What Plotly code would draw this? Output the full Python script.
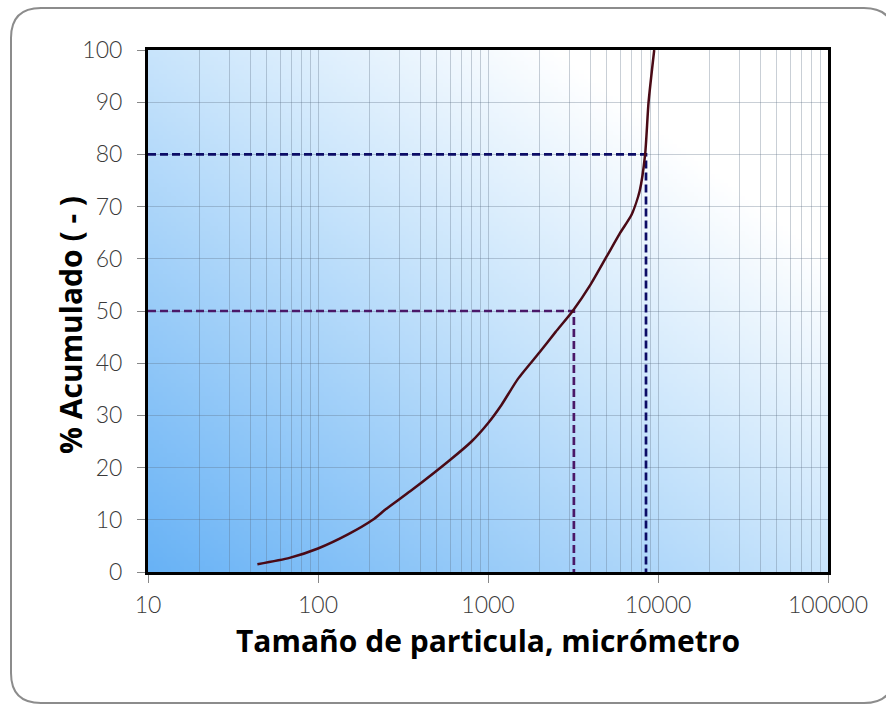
import base64, struct, zlib
import plotly.graph_objects as go

# ---- data ----
size_um = [44, 68, 100, 150, 210, 250, 350, 600, 800, 1000, 1200, 1500, 2000,
           2500, 3150, 4000, 5000, 6000, 7000, 7800, 8400, 8800, 9500]
cum_pct = [1.5, 2.7, 4.5, 7.2, 10, 12, 15.5, 21.5, 25, 28.5, 32, 37, 42,
           46, 50, 55, 60.5, 65, 68.5, 73, 80, 90, 100]
d50 = 3200
d80 = 8500
x_ticks = [10, 100, 1000, 10000, 100000]
x_tick_labels = ["10", "100", "1000", "10000", "100000"]
x_minor = [m * 10 ** k for k in range(1, 5) for m in range(2, 10)]
y_ticks = list(range(0, 101, 10))
x_title = "Tamaño de particula, micrómetro"
y_title = "% Acumulado ( - )"

# ---- gradient background image ----
def lerp(a, b, t):
    return tuple(int(round(a[i] + (b[i] - a[i]) * t)) for i in range(3))

def grad_png(w, h):
    c0 = (104, 178, 245)
    c1 = (200, 228, 251)
    c2 = (255, 255, 255)
    raw = bytearray()
    for j in range(h):
        v = 1 - j / (h - 1)
        raw.append(0)
        for i in range(w):
            u = i / (w - 1)
            t = (u + v) / 2
            if t < 0.5:
                c = lerp(c0, c1, t / 0.5)
            else:
                c = lerp(c1, c2, min(1, (t - 0.5) / 0.3))
            raw.extend(c)
    def chunk(tag, data):
        return struct.pack(">I", len(data)) + tag + data + struct.pack(">I", zlib.crc32(tag + data) & 0xffffffff)
    png = b"\x89PNG\r\n\x1a\n" + chunk(b"IHDR", struct.pack(">IIBBBBB", w, h, 8, 2, 0, 0, 0))
    png += chunk(b"IDAT", zlib.compress(bytes(raw), 9)) + chunk(b"IEND", b"")
    return "data:image/png;base64," + base64.b64encode(png).decode()

W, H = 886, 706
L, R, T, B = 148, 828, 50, 572

def px_to_paper(px, py):
    return (px - L) / (R - L), (B - py) / (B - T)

def rounded_rect(x0, y0, x1, y1, r):
    def P(px, py):
        u, v = px_to_paper(px, py)
        return f"{u:.5f},{v:.5f}"
    return (f"M {P(x0 + r, y0)} L {P(x1 - r, y0)} Q {P(x1, y0)} {P(x1, y0 + r)} "
            f"L {P(x1, y1 - r)} Q {P(x1, y1)} {P(x1 - r, y1)} "
            f"L {P(x0 + r, y1)} Q {P(x0, y1)} {P(x0, y1 - r)} "
            f"L {P(x0, y0 + r)} Q {P(x0, y0)} {P(x0 + r, y0)} Z")

fig = go.Figure()
fig.add_trace(go.Scatter(x=[10, d50, d50], y=[50, 50, 0], mode="lines",
                         line=dict(color="#4a1868", width=2.7, dash="8px,4px"),
                         hoverinfo="skip", showlegend=False))
fig.add_trace(go.Scatter(x=[10, d80, d80], y=[80, 80, 0], mode="lines",
                         line=dict(color="#0c0c66", width=2.7, dash="8px,4px"),
                         hoverinfo="skip", showlegend=False))
fig.add_trace(go.Scatter(x=size_um, y=cum_pct, mode="lines",
                         line=dict(color="#4a0a16", width=2.5, shape="spline", smoothing=0.6),
                         showlegend=False))

grid_col = "rgba(90,110,130,0.33)"
tick_font = dict(family="Lato, 'Open Sans', sans-serif", size=23, color="#3a3a3a", weight=300)
title_font = dict(family="'Open Sans', 'Liberation Sans', Arial", size=30, color="black", weight="bold")
fig.update_xaxes(type="log", range=[1, 5], tickvals=x_ticks, ticktext=x_tick_labels,
                 showgrid=True, gridcolor=grid_col, gridwidth=1,
                 minor=dict(tickvals=x_minor, showgrid=True, gridcolor=grid_col, gridwidth=1, ticks=""),
                 ticks="outside", ticklen=8, tickcolor="#888", tickwidth=1,
                 ticklabelstandoff=2,
                 showline=True, linecolor="black", linewidth=3, mirror=True,
                 tickfont=tick_font, zeroline=False)
fig.update_yaxes(range=[0, 100], tickvals=y_ticks, showgrid=True, gridcolor=grid_col, gridwidth=1,
                 ticks="outside", ticklen=8, tickcolor="#888", tickwidth=1,
                 ticklabelstandoff=10,
                 showline=True, linecolor="black", linewidth=3, mirror=True,
                 tickfont=tick_font, zeroline=False)

xt_u, xt_v = px_to_paper(488, 640)
yt_u, yt_v = px_to_paper(70, 325)
fig.update_layout(
    width=W, height=H,
    margin=dict(l=L, r=W - R, t=T, b=H - B, autoexpand=False),
    paper_bgcolor="white", plot_bgcolor="white",
    images=[dict(source=grad_png(160, 120), xref="paper", yref="paper", x=0, y=1,
                 sizex=1, sizey=1, sizing="stretch", layer="below", xanchor="left", yanchor="top")],
    shapes=[dict(type="path", xref="paper", yref="paper",
                 path=rounded_rect(11, 8, 894, 703, 30),
                 line=dict(color="#8c8c8c", width=2), fillcolor="rgba(0,0,0,0)", layer="below")],
    annotations=[
        dict(text=x_title, xref="paper", yref="paper", x=xt_u, y=xt_v, showarrow=False,
             xanchor="center", yanchor="middle", font=title_font),
        dict(text=y_title, xref="paper", yref="paper", x=yt_u, y=yt_v, showarrow=False,
             textangle=-90, xanchor="center", yanchor="middle", font=title_font),
    ],
)

fig.write_html("out.html", config={"displayModeBar": False},
               post_script="document.body.style.margin='0px';document.body.style.overflow='hidden';")
